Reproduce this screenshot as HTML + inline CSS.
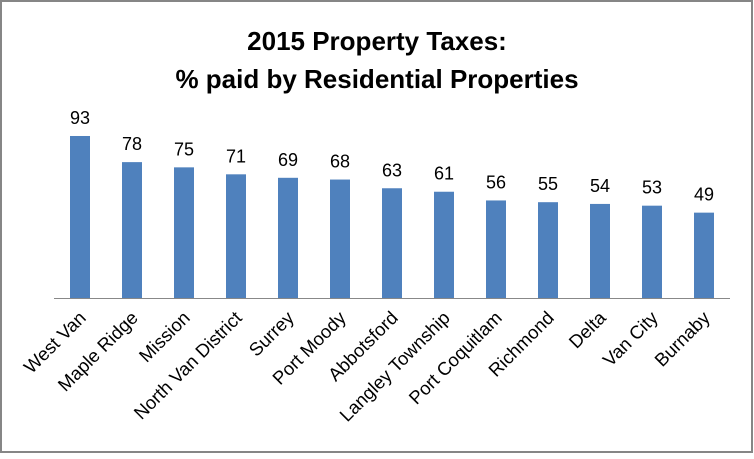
<!DOCTYPE html>
<html><head><style>body{margin:0;background:#fff}</style></head><body>
<svg width="754" height="454" xmlns="http://www.w3.org/2000/svg" font-family="Liberation Sans, sans-serif">
<rect x="1" y="1" width="751" height="451" fill="#fff" stroke="#868686" stroke-width="2"/>
<text x="377" y="50" text-anchor="middle" font-size="26" font-weight="bold">2015 Property Taxes:</text>
<text x="377" y="88" text-anchor="middle" font-size="26" font-weight="bold">% paid by Residential Properties</text>
<g fill="#4F81BD" id="bars"></g>
<line x1="54" y1="298.5" x2="730" y2="298.5" stroke="#888" stroke-width="1"/>
<g id="labels" font-size="18"></g>
</svg>
<script>
var d=[["West Van",93],["Maple Ridge",78],["Mission",75],["North Van District",71],["Surrey",69],["Port Moody",68],["Abbotsford",63],["Langley Township",61],["Port Coquitlam",56],["Richmond",55],["Delta",54],["Van City",53],["Burnaby",49]];
var ns="http://www.w3.org/2000/svg",b=document.getElementById("bars"),l=document.getElementById("labels");
d.forEach(function(e,i){var cx=80+52*i,h=e[1]*1.742,top=298-h;
var r=document.createElementNS(ns,"rect");r.setAttribute("x",cx-10);r.setAttribute("y",top);r.setAttribute("width",20);r.setAttribute("height",h);b.appendChild(r);
var t=document.createElementNS(ns,"text");t.setAttribute("x",cx);t.setAttribute("y",top-12);t.setAttribute("text-anchor","middle");t.textContent=e[1];l.appendChild(t);
var t2=document.createElementNS(ns,"text");t2.setAttribute("text-anchor","end");t2.setAttribute("transform","translate("+(cx+7)+",319) rotate(-45)");t2.setAttribute("font-size","18.5");t2.textContent=e[0];l.appendChild(t2);});
</script>
</body></html>
